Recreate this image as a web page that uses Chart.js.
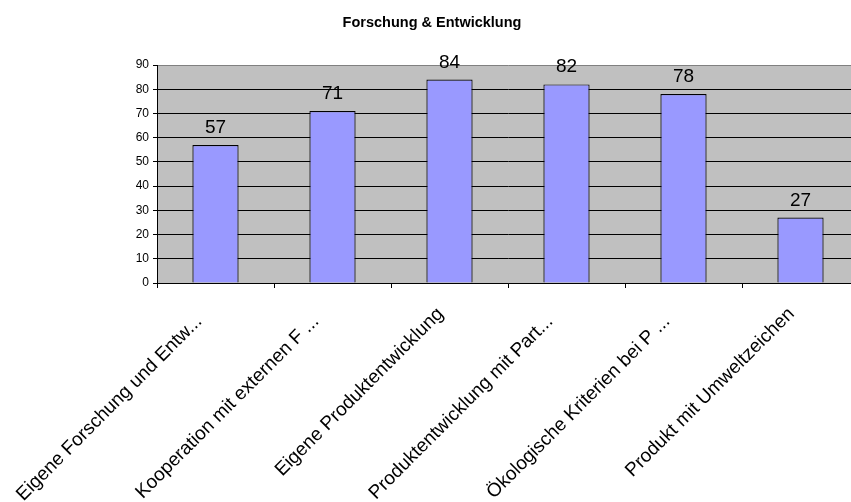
<!DOCTYPE html>
<html>
<head>
<meta charset="utf-8">
<script src="https://cdn.jsdelivr.net/npm/chart.js@4/dist/chart.umd.min.js"></script>
<style>
html,body{margin:0;padding:0;background:#fff;overflow:hidden;width:851px;height:502px;}
canvas{display:block;}
</style>
</head>
<body>
<canvas id="c" width="860" height="502"></canvas>
<script>
const chartTitle = 'Forschung & Entwicklung';
const categories = [
  'Eigene Forschung und Entw...',
  'Kooperation mit externen F ...',
  'Eigene Produktentwicklung',
  'Produktentwicklung mit Part...',
  'Ökologische Kriterien bei P ...',
  'Produkt mit Umweltzeichen'
];
const values = [57, 71, 84, 82, 78, 27];
const yMin = 0, yMax = 90, yStep = 10;

Chart.defaults.font.family = '"Liberation Sans", Arial, sans-serif';
Chart.defaults.color = '#000';

const plotBg = {
  id: 'plotBg',
  beforeDraw(chart) {
    const a = chart.chartArea, ctx = chart.ctx;
    ctx.save();
    ctx.fillStyle = '#C0C0C0';
    ctx.fillRect(a.left, a.top, a.right - a.left, a.bottom - a.top);
    ctx.restore();
  }
};
const titlePlugin = {
  id: 'titleText',
  afterDraw(chart) {
    const ctx = chart.ctx;
    ctx.save();
    ctx.font = 'bold 14.5px "Liberation Sans", Arial, sans-serif';
    ctx.fillStyle = '#000';
    ctx.textAlign = 'center';
    ctx.textBaseline = 'middle';
    ctx.fillText(chartTitle, 432, 23);
    ctx.restore();
  }
};
const valueLabels = {
  id: 'valueLabels',
  afterDatasetsDraw(chart) {
    const ctx = chart.ctx;
    const meta = chart.getDatasetMeta(0);
    ctx.save();
    ctx.font = '19px "Liberation Sans", Arial, sans-serif';
    ctx.fillStyle = '#000';
    ctx.textAlign = 'center';
    ctx.textBaseline = 'alphabetic';
    meta.data.forEach((bar, i) => {
      ctx.fillText(String(chart.data.datasets[0].data[i]), bar.x, bar.y - 12);
    });
    ctx.restore();
  }
};

new Chart(document.getElementById('c'), {
  type: 'bar',
  data: {
    labels: categories,
    datasets: [{
      data: values,
      backgroundColor: '#9999FF',
      borderColor: '#000',
      borderWidth: 1.2,
      categoryPercentage: 1,
      barPercentage: 0.395
    }]
  },
  options: {
    responsive: false,
    animation: false,
    layout: { padding: { top: 65, right: 1, left: 0, bottom: 0 } },
    plugins: { legend: { display: false }, title: { display: false }, tooltip: { enabled: false } },
    scales: {
      x: {
        offset: true,
        grid: { display: true, offset: true, drawOnChartArea: false, tickLength: 5, color: '#000', tickColor: '#000' },
        border: { display: true, color: '#000', width: 1 },
        ticks: {
          autoSkip: false, minRotation: 45, maxRotation: 45, padding: 15, labelOffset: -9,
          font: { size: 19 }, color: '#000',
          callback(v, i) {
            const t = categories[i];
            return t.endsWith('...') ? t + '\u00a0\u00a0' : t;
          }
        },
        afterFit(s) { s.height = 219; s.paddingLeft = 0; s.paddingRight = 0; }
      },
      y: {
        min: yMin, max: yMax,
        grid: {
          color: (c) => (c.tick && c.tick.value === yMax ? '#808080' : '#000'),
          tickColor: '#000',
          tickLength: 4
        },
        border: { display: true, color: '#000', width: 1 },
        ticks: { stepSize: yStep, padding: 4, font: { size: 12 }, color: '#000' },
        afterFit(s) { s.width = 157; }
      }
    }
  },
  plugins: [plotBg, valueLabels, titlePlugin]
});
</script>
</body>
</html>
